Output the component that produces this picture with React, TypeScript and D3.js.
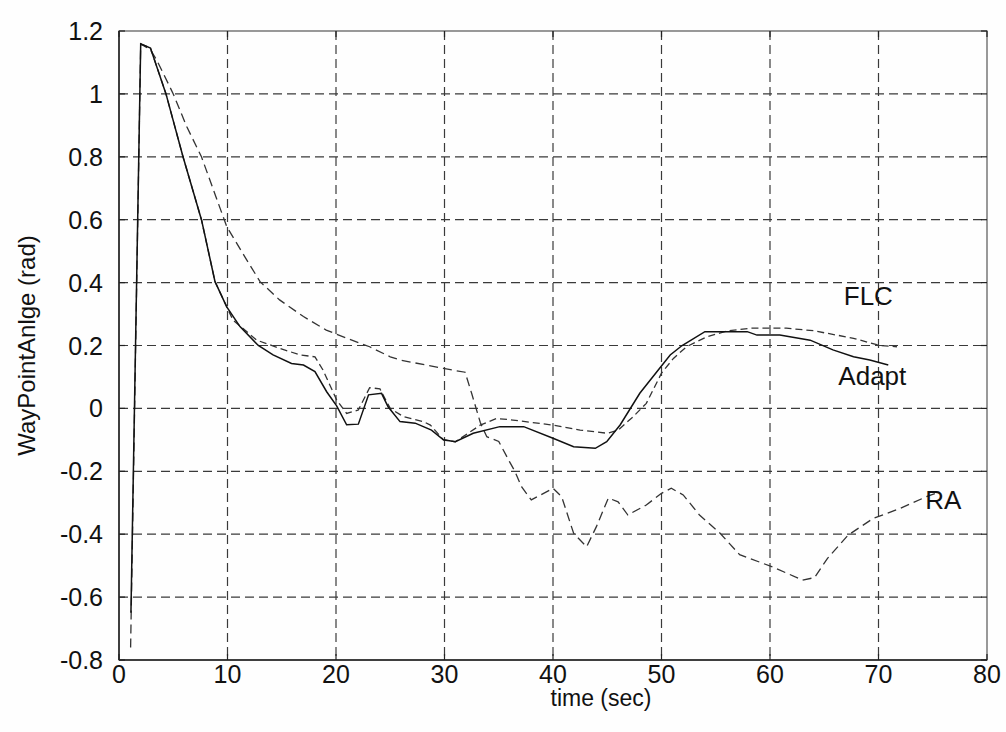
import React from "react";
import * as d3 from "d3";

const xTicks = [0, 10, 20, 30, 40, 50, 60, 70, 80];
const yTicks = [-0.8, -0.6, -0.4, -0.2, 0, 0.2, 0.4, 0.6, 0.8, 1, 1.2];
const yTickLabels = ["-0.8", "-0.6", "-0.4", "-0.2", "0", "0.2", "0.4", "0.6", "0.8", "1", "1.2"];

const adaptT = [1.1, 2.0, 2.9, 4.33, 5.9, 7.6, 8.85, 9.93, 11.15, 12.84, 14.2, 15.9, 17.0, 18.06, 19.14, 20.06, 20.98, 22.06, 23.0, 24.2, 24.8, 25.9, 27.3, 28.8, 29.9, 31.0, 32.65, 35.1, 37.3, 40.0, 41.9, 43.9, 44.95, 46.2, 48.0, 49.7, 50.8, 51.9, 54.0, 57.9, 58.8, 60.9, 63.7, 65.8, 67.7, 69.2, 70.9];
const adaptY = [-0.65, 1.159, 1.146, 1.0, 0.8, 0.6, 0.403, 0.323, 0.26, 0.2, 0.17, 0.143, 0.138, 0.117, 0.053, 0.008, -0.052, -0.05, 0.043, 0.048, 0.005, -0.042, -0.047, -0.069, -0.1, -0.106, -0.079, -0.058, -0.058, -0.095, -0.122, -0.127, -0.106, -0.052, 0.048, 0.122, 0.17, 0.2, 0.244, 0.244, 0.233, 0.233, 0.217, 0.186, 0.164, 0.154, 0.138];

const flcT = [2.0, 2.9, 4.33, 5.9, 7.6, 8.85, 9.93, 10.5, 12.7, 14.8, 16.7, 18.06, 18.8, 20.06, 20.98, 22.06, 23.1, 24.05, 25.0, 26.2, 28.05, 28.7, 29.9, 31.0, 33.3, 34.8, 36.3, 40.0, 42.5, 45.0, 46.0, 47.4, 48.6, 50.0, 51.1, 52.3, 54.2, 56.0, 58.2, 61.5, 64.0, 67.7, 70.1, 71.7];
const flcY = [1.159, 1.146, 1.0, 0.8, 0.6, 0.403, 0.323, 0.281, 0.217, 0.191, 0.17, 0.164, 0.122, 0.027, -0.016, -0.005, 0.066, 0.062, 0.0, -0.026, -0.042, -0.053, -0.1, -0.106, -0.053, -0.032, -0.037, -0.053, -0.069, -0.079, -0.069, -0.026, 0.016, 0.112, 0.159, 0.196, 0.228, 0.246, 0.255, 0.255, 0.247, 0.223, 0.2, 0.196];

const raT = [1.07, 2.0, 2.9, 3.47, 5.0, 6.24, 7.6, 9.93, 11.6, 13.0, 14.8, 17.0, 19.1, 21.0, 23.1, 25.0, 25.9, 29.9, 31.9, 32.5, 33.3, 33.9, 35.0, 36.0, 36.5, 37.1, 38.0, 40.0, 40.8, 41.9, 43.1, 44.0, 45.1, 46.0, 46.9, 48.6, 50.0, 50.9, 52.0, 53.5, 55.4, 57.2, 60.3, 63.0, 64.1, 65.3, 67.2, 69.5, 72.0, 74.4, 75.3];
const raY = [-0.76, 1.159, 1.14, 1.108, 1.0, 0.896, 0.8, 0.578, 0.482, 0.403, 0.345, 0.292, 0.249, 0.223, 0.196, 0.164, 0.154, 0.127, 0.115, 0.048, -0.045, -0.09, -0.105, -0.17, -0.201, -0.249, -0.291, -0.254, -0.281, -0.397, -0.44, -0.376, -0.285, -0.297, -0.339, -0.307, -0.27, -0.254, -0.275, -0.339, -0.397, -0.465, -0.505, -0.546, -0.538, -0.477, -0.403, -0.35, -0.318, -0.281, -0.27];

const seriesLabels = [
  { text: "FLC", t: 66.8, y: 0.329 },
  { text: "Adapt", t: 66.3, y: 0.074 },
  { text: "RA", t: 74.3, y: -0.32 },
];

const W = 1006;
const H = 732;
const left = 119;
const right = 987;
const top = 31;
const bottom = 660;
const FONT = "'Liberation Sans', Arial, Helvetica, sans-serif";

export default function App() {
  const x = d3.scaleLinear().domain([0, 80]).range([left, right]);
  const y = d3.scaleLinear().domain([-0.8, 1.2]).range([bottom, top]);
  const line = d3
    .line<[number, number]>()
    .x((d) => x(d[0]))
    .y((d) => y(d[1]));
  const zip = (a: number[], b: number[]) => a.map((v, i) => [v, b[i]] as [number, number]);
  const gridColor = "#3a3a3a";
  return (
    <svg
      width={W}
      height={H}
      style={{ position: "absolute", left: 0, top: 0, background: "#fff" }}
      fontFamily={FONT}
    >
      <rect x={0} y={0} width={W} height={H} fill="#fefefe" />
      {xTicks.slice(1, -1).map((t) => (
        <line key={"gx" + t} x1={x(t)} x2={x(t)} y1={top} y2={bottom} stroke={gridColor} strokeWidth={1.2} strokeDasharray="9,5" />
      ))}
      {yTicks.slice(1, -1).map((t) => (
        <line key={"gy" + t} x1={left} x2={right} y1={y(t)} y2={y(t)} stroke={gridColor} strokeWidth={1.2} strokeDasharray="9,5" />
      ))}
      <rect x={left} y={top} width={right - left} height={bottom - top} fill="none" stroke="#555" strokeWidth={1.2} />
      <line x1={left} x2={right} y1={bottom} y2={bottom} stroke="#222" strokeWidth={1.5} />
      <line x1={left} x2={left} y1={top} y2={bottom} stroke="#222" strokeWidth={1.5} />
      {xTicks.map((t) => (
        <g key={"xt" + t}>
          <line x1={x(t)} x2={x(t)} y1={bottom} y2={bottom - 6} stroke="#222" strokeWidth={1.2} />
          <line x1={x(t)} x2={x(t)} y1={top} y2={top + 6} stroke="#222" strokeWidth={1.2} />
          <text x={x(t)} y={bottom + 23} fontSize={25} textAnchor="middle" fill="#111">
            {t}
          </text>
        </g>
      ))}
      {yTicks.map((t, i) => (
        <g key={"yt" + t}>
          <line x1={left} x2={left + 6} y1={y(t)} y2={y(t)} stroke="#222" strokeWidth={1.2} />
          <line x1={right} x2={right - 6} y1={y(t)} y2={y(t)} stroke="#222" strokeWidth={1.2} />
          <text x={left - 16} y={y(t) + 9} fontSize={25} textAnchor="end" fill="#111">
            {yTickLabels[i]}
          </text>
        </g>
      ))}
      <path d={line(zip(raT, raY)) || ""} fill="none" stroke="#333" strokeWidth={1.3} strokeDasharray="9,5" />
      <path d={line(zip(flcT, flcY)) || ""} fill="none" stroke="#333" strokeWidth={1.3} strokeDasharray="7,4" />
      <path d={line(zip(adaptT, adaptY)) || ""} fill="none" stroke="#111" strokeWidth={1.5} />
      {seriesLabels.map((l) => (
        <text key={l.text} x={x(l.t)} y={y(l.y)} fontSize={26} fill="#111">
          {l.text}
        </text>
      ))}
      <text x={601} y={706} fontSize={23} textAnchor="middle" fill="#111">
        time (sec)
      </text>
      <text transform={`translate(35, ${(top + bottom) / 2}) rotate(-90)`} fontSize={24} textAnchor="middle" fill="#111">
        WayPointAnlge (rad)
      </text>
    </svg>
  );
}
